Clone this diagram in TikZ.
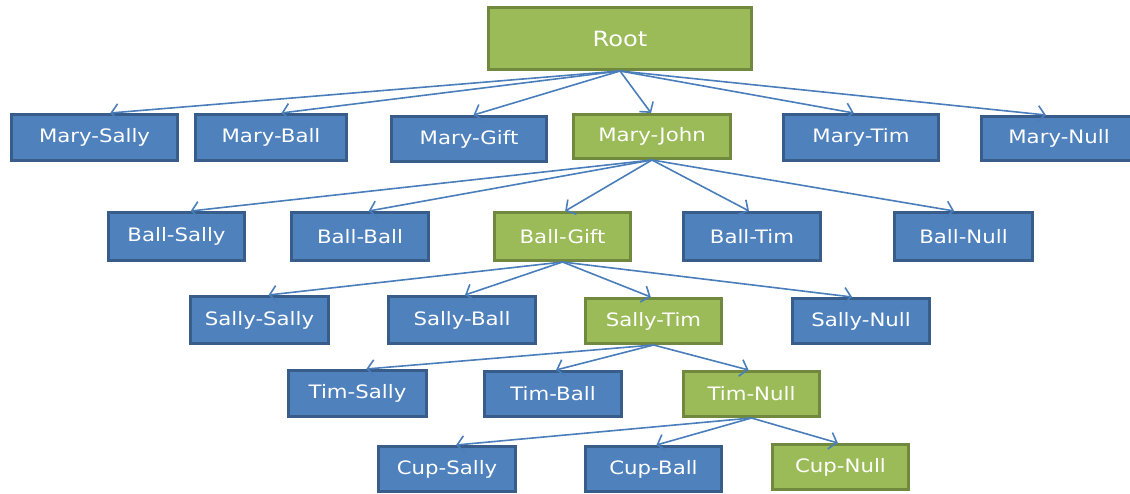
\documentclass[tikz,border=0pt]{standalone}
\usepackage{fontspec}
\setmainfont{DejaVu Sans}[FakeStretch=1.15]
\usetikzlibrary{arrows.meta,calc}
\definecolor{boxblue}{HTML}{4F81BD}
\definecolor{edgeblue}{HTML}{385D8A}
\definecolor{boxgreen}{HTML}{9BBB59}
\definecolor{edgegreen}{HTML}{71893F}
\definecolor{linkblue}{HTML}{4A7EBB}
\tikzset{
  tbox/.style={draw, line width=2.6bp, rectangle, inner sep=0pt,
    text=white, font=\fontsize{18.5bp}{20bp}\selectfont},
  bluebox/.style={tbox, fill=boxblue, draw=edgeblue},
  greenbox/.style={tbox, fill=boxgreen, draw=edgegreen},
  link/.style={draw=linkblue, line width=1.6bp,
    -{Straight Barb[length=7bp,width=17bp,line width=1.6bp]}},
}
% box of outer size w x h centred at (x,y)
\newcommand\tnode[6]{\node[#1, minimum width=#4bp-2.6bp, minimum height=#5bp-2.6bp] (#2) at (#3) {#6};}
\newcommand\tlink[2]{\draw[link] (#1.south) -- ($(#2.north)!0.03!(#2.north -| #1.south)$);}
\begin{document}
\begin{tikzpicture}[x=1bp,y=-1bp]
\useasboundingbox (0,0) rectangle (1130,494);
% root
\node[greenbox, minimum width=263.4bp, minimum height=62.4bp,
  font=\fontsize{21bp}{23bp}\selectfont] (root) at (620,38.5) {Root};
% first level
\tnode{bluebox}{ms}{94.5,137.5}{169}{49}{Mary-Sally}
\tnode{bluebox}{mb}{271,137.5}{154}{49}{Mary-Ball}
\tnode{bluebox}{mg}{469,139}{158}{48}{Mary-Gift}
\tnode{greenbox}{mj}{652,136.5}{160}{47}{Mary-John}
\tnode{bluebox}{mt}{861,137.5}{158}{49}{Mary-Tim}
\tnode{bluebox}{mn}{1059,138.5}{158}{47}{Mary-Null}
% second level
\tnode{bluebox}{bs}{176.5,236.5}{139}{51}{Ball-Sally}
\tnode{bluebox}{bb}{360,236.5}{140}{51}{Ball-Ball}
\tnode{greenbox}{bg}{562.5,236.5}{139}{51}{Ball-Gift}
\tnode{bluebox}{bt}{752,236.5}{140}{51}{Ball-Tim}
\tnode{bluebox}{bn}{963.5,236.5}{141}{51}{Ball-Null}
% third level
\tnode{bluebox}{ss}{259.5,320}{141}{50}{Sally-Sally}
\tnode{bluebox}{sb}{462,320}{150}{50}{Sally-Ball}
\tnode{greenbox}{st}{653.5,321}{139}{48}{Sally-Tim}
\tnode{bluebox}{sn}{861,321}{140}{48}{Sally-Null}
% fourth level
\tnode{bluebox}{ts}{357.5,393.5}{141}{49}{Tim-Sally}
\tnode{bluebox}{tb}{553,394}{140}{48}{Tim-Ball}
\tnode{greenbox}{tn}{751.5,394}{139}{48}{Tim-Null}
% fifth level
\tnode{bluebox}{cs}{447,469}{140}{48}{Cup-Sally}
\tnode{bluebox}{cb}{653.5,469}{139}{48}{Cup-Ball}
\tnode{greenbox}{cn}{840.5,467}{139}{48}{Cup-Null}
% connectors
\foreach \c in {ms,mb,mg,mj,mt,mn} {\tlink{root}{\c}}
\foreach \c in {bs,bb,bg,bt,bn} {\tlink{mj}{\c}}
\foreach \c in {ss,sb,st,sn} {\tlink{bg}{\c}}
\foreach \c in {ts,tb,tn} {\tlink{st}{\c}}
\foreach \c in {cs,cb,cn} {\tlink{tn}{\c}}
\end{tikzpicture}
\end{document}
